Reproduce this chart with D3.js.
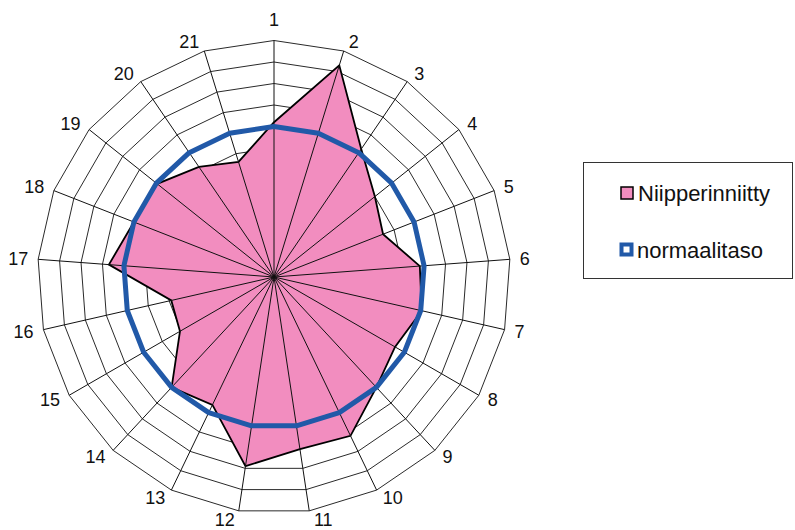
<!DOCTYPE html>
<html lang="fi">
<head>
  <meta charset="utf-8">
  <title>Niipperinniitty</title>
  <style>
    body {
      margin: 0;
      background-color: #fff;
    }

    svg text {
      font-family: 'Liberation Sans', Arial, sans-serif;
      fill: #111;
    }
  </style>
  <script src="https://d3js.org/d3.v7.min.js" charset="utf-8"></script>
</head>

<body>
  <svg id="chart" width="795" height="530"></svg>

  <script type="text/javascript">
    // axis names around the chart
    var axisLabels = ["1", "2", "3", "4", "5", "6", "7", "8", "9", "10", "11",
      "12", "13", "14", "15", "16", "17", "18", "19", "20", "21"];

    var niipperinniitty = [7.2, 10.3, 7.2, 6.0, 5.45, 6.8, 7.05, 6.5, 7.0, 8.2, 8.1,
      8.9, 6.6, 7.0, 5.05, 4.9, 7.7, 7.0, 6.95, 6.2, 5.6];

    var normaalitaso = [7, 7, 7, 7, 7, 7, 7, 7, 7, 7, 7,
      7, 7, 7, 7, 7, 7, 7, 7, 7, 7];

    // grid rings
    var gridLevels = [1, 2, 3, 4, 5, 6, 7, 8, 9, 10, 11];

    var seriesNames = ["Niipperinniitty", "normaalitaso"];

    var cx = 274, cy = 277, R = 236.5;
    var n = axisLabels.length;

    var svg = d3.select("#chart");
    var g = svg.append("g").attr("transform", "translate(" + cx + "," + cy + ")");

    var r = d3.scaleLinear().domain([0, 11]).range([0, R]);
    var angle = d3.scaleLinear().domain([0, n]).range([0, 2 * Math.PI]);

    var radial = d3.lineRadial()
      .angle(function (d, i) { return angle(i); })
      .radius(function (d) { return r(d); })
      .curve(d3.curveLinearClosed);

    // rings
    g.selectAll("path.ring")
      .data(gridLevels)
      .enter().append("path")
      .attr("class", "ring")
      .attr("d", function (lv) { return radial(axisLabels.map(function () { return lv; })); })
      .attr("fill", "none")
      .attr("stroke", "#2a2a2a")
      .attr("stroke-width", 1);

    // filled area
    g.append("path")
      .attr("d", radial(niipperinniitty))
      .attr("fill", "#f28dbf")
      .attr("stroke", "#000")
      .attr("stroke-width", 1.8)
      .attr("stroke-linejoin", "miter");

    // spokes
    g.selectAll("line.spoke")
      .data(axisLabels)
      .enter().append("line")
      .attr("class", "spoke")
      .attr("x1", 0).attr("y1", 0)
      .attr("x2", function (d, i) { return r(11) * Math.sin(angle(i)); })
      .attr("y2", function (d, i) { return -r(11) * Math.cos(angle(i)); })
      .attr("stroke", "#111")
      .attr("stroke-width", 1);

    // normal level line
    g.append("path")
      .attr("d", radial(normaalitaso))
      .attr("fill", "none")
      .attr("stroke", "#2159a8")
      .attr("stroke-width", 5)
      .attr("stroke-linejoin", "round");

    // axis labels
    g.selectAll("text.lab")
      .data(axisLabels)
      .enter().append("text")
      .attr("class", "lab")
      .attr("font-size", 18)
      .attr("text-anchor", "middle")
      .attr("dominant-baseline", "central")
      .attr("x", function (d, i) {
        var s = Math.sin(angle(i));
        var w = d.length * 10;
        var off = Math.abs(s) < 1e-6 ? 0 : Math.sign(s) * (w / 2 + 3) + s * 7;
        return r(11) * s + off;
      })
      .attr("y", function (d, i) {
        var s = Math.sin(angle(i)), c = Math.cos(angle(i));
        var off = Math.abs(s) < 1e-6 ? -c * 21 : -c * 9;
        return -r(11) * c + off;
      })
      .text(function (d) { return d; });

    // legend
    var lg = svg.append("g").attr("transform", "translate(583,162)");
    lg.append("rect")
      .attr("x", 0.5).attr("y", 0.5)
      .attr("width", 209).attr("height", 116)
      .attr("fill", "#fff")
      .attr("stroke", "#333")
      .attr("stroke-width", 1);

    lg.append("rect")
      .attr("x", 38).attr("y", 25)
      .attr("width", 12).attr("height", 12)
      .attr("fill", "#f28dbf")
      .attr("stroke", "#000")
      .attr("stroke-width", 1.5);
    lg.append("text")
      .attr("x", 55).attr("y", 39)
      .attr("font-size", 22)
      .text(seriesNames[0]);

    lg.append("rect")
      .attr("x", 38.5).attr("y", 82.5)
      .attr("width", 10).attr("height", 10)
      .attr("fill", "#fff")
      .attr("stroke", "#2159a8")
      .attr("stroke-width", 4);
    lg.append("text")
      .attr("x", 54).attr("y", 96)
      .attr("font-size", 22)
      .text(seriesNames[1]);
  </script>
</body>

</html>
